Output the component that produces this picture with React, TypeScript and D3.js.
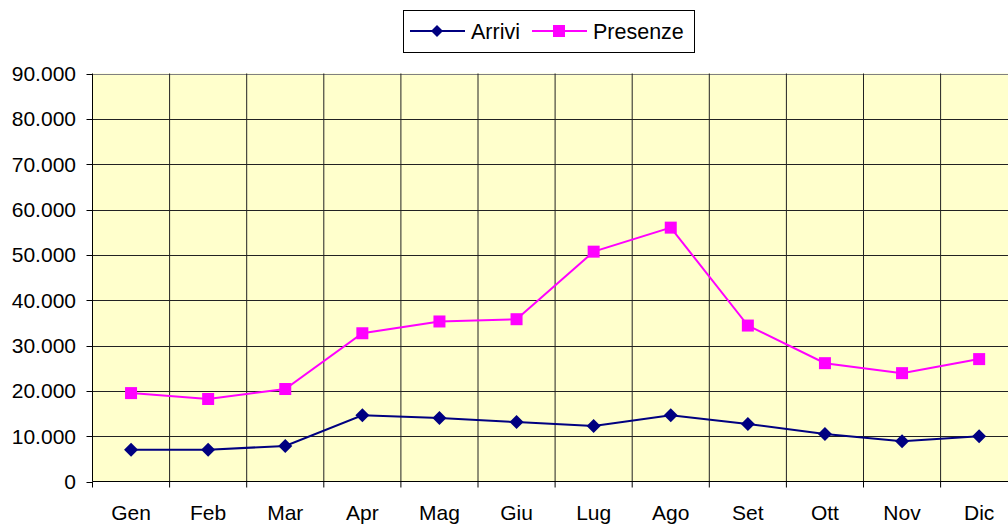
import React from 'react';
import * as d3 from 'd3';

const months = ['Gen', 'Feb', 'Mar', 'Apr', 'Mag', 'Giu', 'Lug', 'Ago', 'Set', 'Ott', 'Nov', 'Dic'];
const arrivi = [7000, 7000, 7850, 14600, 14000, 13100, 12250, 14600, 12700, 10500, 8900, 10000];
const presenze = [19500, 18200, 20400, 32700, 35300, 35800, 50700, 56000, 34400, 26100, 23900, 27000];
const yTicks = [0, 10000, 20000, 30000, 40000, 50000, 60000, 70000, 80000, 90000];

const fmt = (v: number) => (v === 0 ? '0' : d3.format(',')(v).replace(/,/g, '.'));

const App = () => {
  const width = 1008;
  const height = 524;
  const left = 92.5;
  const top = 73.5;
  const bottom = 481.5;
  const band = 77.1;
  const right = left + band * months.length;

  const x = d3.scaleBand().domain(months).range([left, right]);
  const y = d3.scaleLinear().domain([0, 90000]).range([bottom, top]);
  const cx = (m: string) => (x(m) as number) + x.bandwidth() / 2;

  const line = d3.line<number>().x((_, i) => cx(months[i])).y(d => y(d));
  const font = '"Liberation Sans", Arial, sans-serif';

  return (
    <svg width={width} height={height} style={{ position: 'absolute', left: 0, top: 0, fontFamily: font }}>
      <rect x={0} y={0} width={width} height={height} fill='#fff' />
      <rect x={left} y={top} width={right - left} height={bottom - top} fill='#FFFFCC' />
      {yTicks.slice(1).map(t =>
        <line key={`h-${t}`} x1={left} x2={right} y1={Math.round(y(t)) + 0.5} y2={Math.round(y(t)) + 0.5}
          stroke={t === 90000 ? '#808080' : '#222'} strokeWidth={1} />
      )}
      {months.slice(1).map(m =>
        <line key={`v-${m}`} x1={x(m)} x2={x(m)} y1={top} y2={bottom} stroke='#222' strokeWidth={1} />
      )}
      {/* axes */}
      <line x1={left} x2={left} y1={top} y2={bottom} stroke='#000' />
      <line x1={left} x2={right} y1={bottom} y2={bottom} stroke='#000' />
      {yTicks.map(t =>
        <g key={`yt-${t}`}>
          <line x1={left - 6} x2={left} y1={Math.round(y(t)) + 0.5} y2={Math.round(y(t)) + 0.5} stroke='#000' />
          <text x={76} y={y(t)} dy='0.35em' textAnchor='end' fontSize={21} fill='#000'>{fmt(t)}</text>
        </g>
      )}
      {months.map(m =>
        <g key={`xt-${m}`}>
          <line x1={x(m)} x2={x(m)} y1={bottom} y2={bottom + 6} stroke='#000' />
          <text x={cx(m)} y={520} textAnchor='middle' fontSize={21} fill='#000'>{m}</text>
        </g>
      )}
      {/* series */}
      <path d={line(presenze) || ''} fill='none' stroke='#FF00FF' strokeWidth={2} />
      {presenze.map((v, i) =>
        <rect key={`p-${i}`} x={cx(months[i]) - 6} y={y(v) - 6} width={12} height={12} fill='#FF00FF' />
      )}
      <path d={line(arrivi) || ''} fill='none' stroke='#000080' strokeWidth={2} />
      {arrivi.map((v, i) =>
        <path key={`a-${i}`} d='M0,-7L7,0L0,7L-7,0Z' transform={`translate(${cx(months[i])},${y(v)})`} fill='#000080' />
      )}
      {/* legend */}
      <rect x={403.5} y={10.5} width={291} height={42} fill='#fff' stroke='#000' />
      <line x1={410} x2={465} y1={31} y2={31} stroke='#000080' strokeWidth={2} />
      <path d='M0,-6L6,0L0,6L-6,0Z' transform='translate(437,31)' fill='#000080' />
      <text x={471} y={31} dy='0.35em' fontSize={21.5} fill='#000'>Arrivi</text>
      <line x1={532} x2={587} y1={31} y2={31} stroke='#FF00FF' strokeWidth={2} />
      <rect x={553} y={25} width={12} height={12} fill='#FF00FF' />
      <text x={593} y={31} dy='0.35em' fontSize={21.5} fill='#000'>Presenze</text>
    </svg>
  );
};

export default App;
